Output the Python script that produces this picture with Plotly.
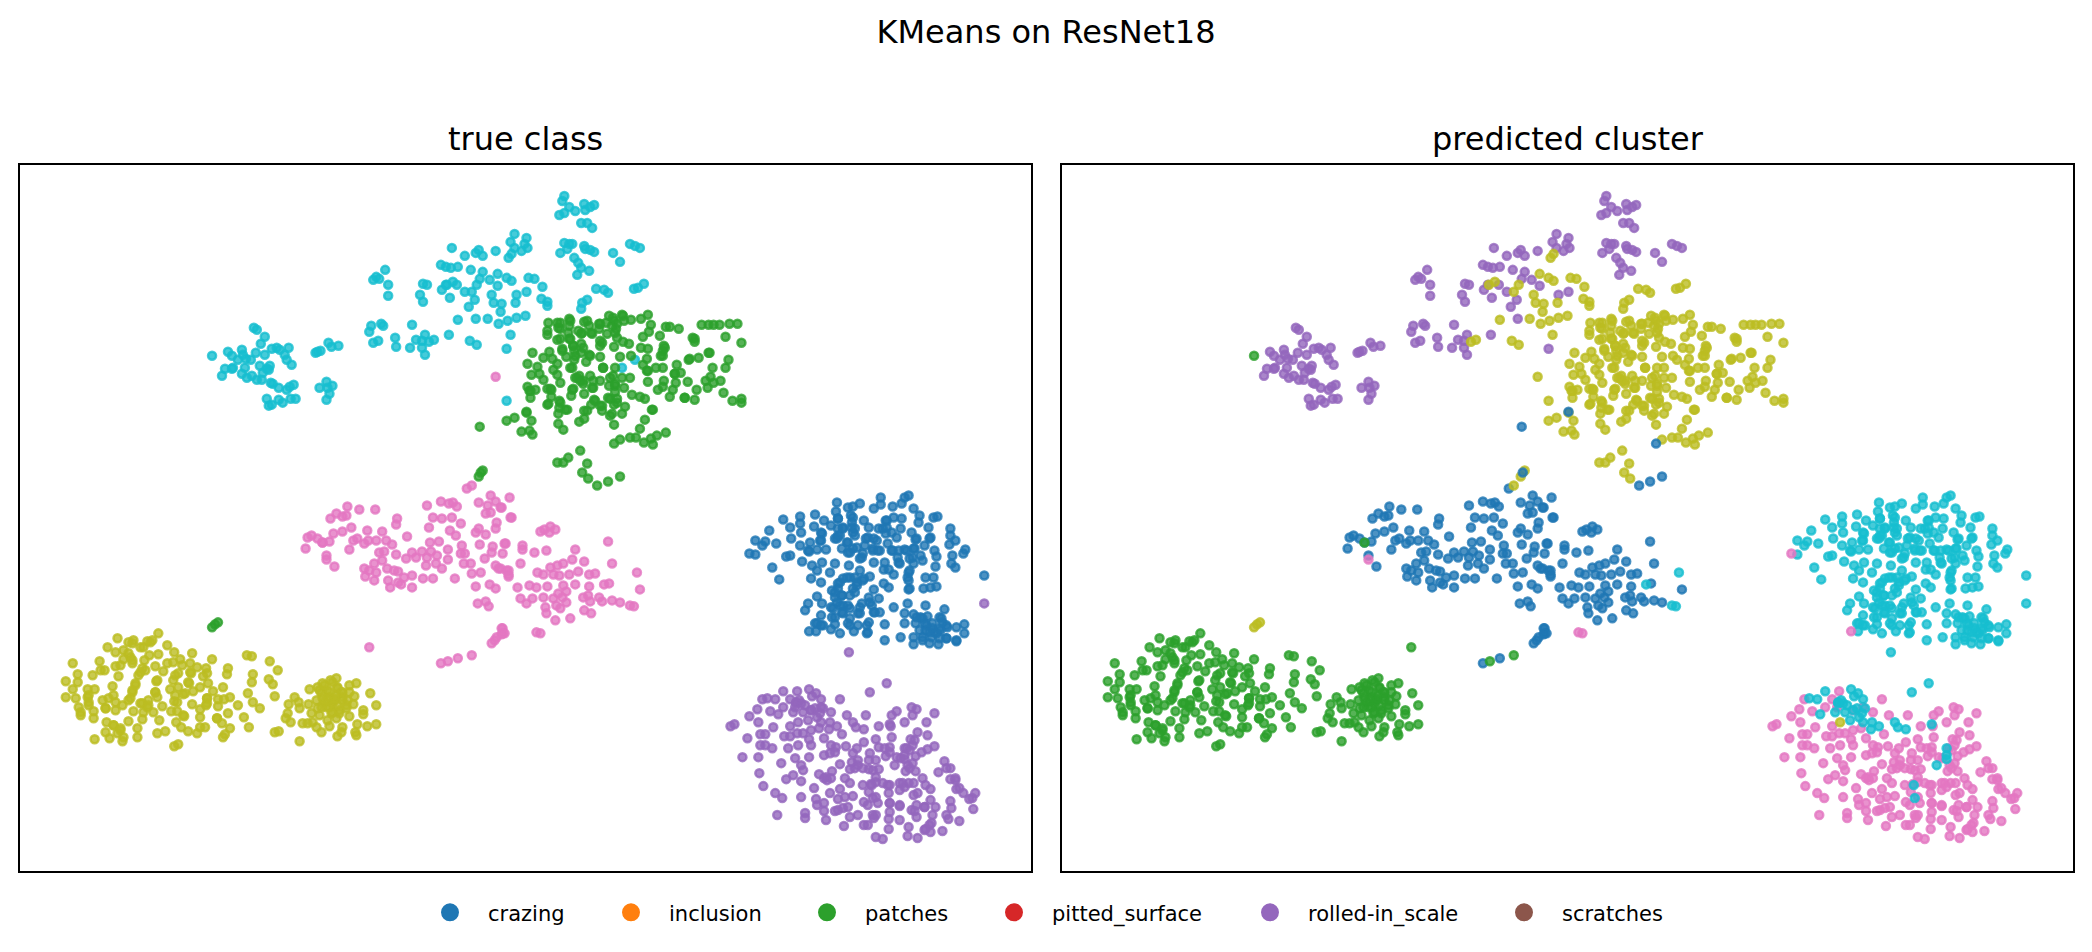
from plotly.subplots import make_subplots
import plotly.graph_objects as go

# t-SNE points have no ticks in the picture, so values are read in picture units.
BLUE = "31,119,180"
GREEN = "44,160,44"
PURPLE = "148,103,189"
OLIVE = "188,189,34"
PINK = "227,119,194"
CYAN = "23,190,207"

legend_names = ["crazing", "inclusion", "patches", "pitted_surface", "rolled-in_scale", "scratches"]
legend_colors = ["#1f77b4", "#ff7f0e", "#2ca02c", "#d62728", "#9467bd", "#8c564b"]
legend_marker_px = [450, 631, 827, 1014, 1270, 1524]

cyan_purple_x = [228,232,242,243,238,246,251,225,222,232,233,245,242,247,252,257,262,260,263,267,270,269,256,265,261,265,254,257,272,277,280,289,285,287,292,271,273,279,287,290,294,267,269,272,279,283,291,296,316,318,321,329,332,339,320,327,333,328,330,327,
    386,377,374,380,389,389,372,370,382,384,413,374,379,396,397,411,417,426,423,423,426,450,424,428,421,424,443,447,458,451,442,447,452,459,453,466,477,480,484,497,472,484,481,466,476,470,491,499,477,518,528,508,516,512,528,526,529,523,516,
    566,564,571,577,566,561,586,587,592,596,583,589,594,566,571,574,569,562,586,587,596,592,576,580,583,591,579,615,622,632,637,642]
cyan_purple_y = [351,355,349,354,359,358,359,368,375,368,367,367,373,377,375,379,379,365,372,368,365,369,352,354,343,336,327,329,348,347,349,347,354,359,364,382,383,387,389,386,384,398,405,404,399,402,398,398,352,351,350,342,346,345,387,381,385,387,393,399,
    269,276,279,278,284,295,325,331,323,325,324,342,340,337,346,347,339,334,340,347,354,334,283,284,294,301,289,284,284,297,264,266,267,266,247,255,252,249,255,250,269,271,278,291,299,306,279,285,318,294,291,348,233,241,237,243,247,250,247,
    195,200,206,210,212,214,203,209,206,204,222,222,227,242,243,243,248,252,245,248,251,249,257,262,267,270,274,252,261,243,245,247]

cyan_olive_x = [454,448,473,478,459,430,435,471,478,512,493,495,503,502,489,500,509,518,527,499,508,513,510,513,530,536,544,517,543,549,549,598,606,610,636,640,646,589,584,583,508,624,637]
cyan_olive_y = [281,284,291,284,319,341,339,340,344,334,294,302,303,311,318,323,320,317,315,273,277,280,257,253,277,278,286,302,298,301,305,288,289,292,288,287,283,299,302,308,400,367,359]

cyan_green_x = [212]
cyan_green_y = [355]

green_olive_x = [550,559,560,549,549,571,571,570,580,583,586,591,593,601,601,608,611,616,614,624,626,633,643,650,618,609,619,602,602,616,625,631,653,651,645,662,668,672,681,704,711,716,722,732,740,728,744,695,697,711,701,691,731,728,715,679,677,683,666,665,663,665,658,643,650,649,633,622,645,649,605,602,591,588,572,576,568,559,564,571,575,583,583,576,534,551,545,554,559,529,539,533,541,545,555,559,562,529,531,537,532,549,553,553,549,561,561,567,560,573,574,577,582,585,581,592,595,602,586,596,593,586,586,581,602,604,612,611,617,617,624,632,626,617,610,619,616,627,624,612,616,634,642,647,654,647,642,668,659,653,646,655,638,632,622,660,666,665,675,678,672,690,687,697,699,710,708,713,716,723,726,735,744,744,528,533,523,531,534,508,516,560,565,559,565,570,582,589,584,590,215,212,218,480,484,
    562,562,572,589,602,615,619,625,617,594,584,572,562,564,575,585,592,604,574,577,579,585,595,594,575,605,615,617,597,604,589,612,619,614,532,552,550,562,569,665,667,650,650,655,677,687,697,712,692]
green_olive_y = [322,322,327,330,334,318,325,332,330,333,321,325,332,323,328,322,315,320,325,314,320,319,318,314,328,333,337,340,345,346,341,343,324,331,336,335,326,326,328,324,324,324,324,323,323,336,342,337,341,352,357,359,359,367,367,364,373,372,345,350,355,367,367,347,348,358,355,356,364,370,367,356,354,361,367,359,356,339,350,338,345,343,352,350,352,351,357,358,363,363,366,374,373,379,369,374,382,386,390,389,397,388,389,396,404,400,407,409,413,395,389,377,380,383,375,375,387,380,393,399,404,410,418,421,405,410,377,385,383,367,377,377,387,391,397,398,404,406,413,415,424,394,396,398,409,419,428,432,435,438,442,444,437,437,439,389,380,386,389,382,396,381,397,399,389,387,380,376,382,380,392,400,398,402,412,420,431,430,434,420,417,423,429,462,462,457,450,463,472,478,624,627,622,476,470,
    322,328,320,320,323,317,323,315,332,333,332,338,338,348,345,347,355,342,367,355,377,380,380,387,388,367,375,385,400,405,410,398,402,413,390,388,403,402,409,355,347,370,381,409,373,397,338,352,358]

green_blue_x = [616,599,610,622,481,482,528]
green_blue_y = [443,485,481,476,426,472,411]

pink_blue_x = [468,492,511,428,442,450,454,458,480,489,497,502,348,331,337,343,347,360,376,398,397,434,443,453,462,451,430,308,312,318,323,330,334,343,352,368,383,408,306,350,354,358,365,369,377,387,393,327,335,380,385,397,375,383,365,370,377,366,375,388,395,399,389,391,399,402,405,413,413,424,434,407,413,417,423,428,432,438,427,437,443,449,449,431,440,456,462,466,463,457,465,472,473,482,477,491,497,479,487,490,477,480,487,481,494,493,504,507,486,497,500,510,508,487,492,498,497,513,503,498,496,493,504,506,442,459,
    503,512,542,546,552,557,551,610,577,586,614,642,506,524,524,536,548,522,502,510,510,539,545,552,559,565,574,580,571,561,555,591,597,611,591,577,565,519,531,538,549,545,560,568,522,528,534,547,548,555,558,562,568,564,585,590,592,601,604,614,622,586,593,572,557,503,504]
pink_blue_y = [488,495,497,505,501,503,502,506,502,505,501,507,506,518,513,516,515,509,509,518,524,517,518,517,523,530,527,537,535,538,542,541,533,531,527,530,531,536,548,549,540,538,543,540,540,540,544,555,566,552,551,554,563,560,568,570,572,576,580,568,570,571,580,587,582,584,577,575,587,578,578,558,552,557,551,557,551,555,565,563,568,559,549,542,541,578,553,553,545,535,563,563,573,572,586,584,588,603,601,606,532,528,534,544,546,552,553,543,558,565,568,574,570,513,512,522,528,517,634,637,640,643,628,633,663,658,
    507,517,531,529,526,529,532,541,549,561,563,589,543,545,549,552,550,563,568,570,576,572,574,567,565,563,559,571,574,575,574,574,573,583,586,584,585,587,585,587,586,597,593,591,598,603,598,607,613,598,605,608,602,597,597,595,601,597,601,600,602,610,613,618,620,628,633]

pink_cyan_x = [639,606,632,636]
pink_cyan_y = [572,584,605,606]
pink_pink_x = [538,542,327]
pink_pink_y = [632,633,559]
pink_green_x = [370,449,473,323]
pink_green_y = [647,661,655,542]
pink_olive_x = [497,473]
pink_olive_y = [376,485]

blue_cyan_x = [840,839,841,851,856,863,854,855,867,877,884,884,896,905,908,912,917,923,922,897,905,889,937,941,932,934,904,886,872,818,803,786,827,817,803,804,793,772,758,768,765,779,794,803,813,812,824,824,834,846,841,856,850,838,869,877,882,889,900,915,919,928,933,954,954,953,959,969,967,956,955,959,938,940,939,917,908,924,913,902,895,881,876,866,856,851,829,820,811,793,789,758,805,825,815,820,833,838,852,863,863,877,888,887,892,897,902,912,917,926,775,782,814,824,846,841,853,858,867,873,860,887,892,912,912,929,937,927,934,940,988,835,841,856,877,820,838,845,853,872,882,811,825,834,843,851,863,873,808,897,911,929,948,824,835,846,861,877,883,908,917,924,931,943,888,908,838,851,861,872,818,824,919,928,936,950,960,968,819,834,843,857,870,929,938,944,968,888,904,917,926,950,960,917,933,942,
    843,851,858,858,856,841,846,840,845,853,860,868,865,871,880,876,883,890,890,895,891,896,901,903,910,918,920,916,913,911,913,855,825,823,841,
    860,866,858,850,843,838,845,840,846,853,845,836,838,853,853,863,865,875,878,870,871,826,820,
    926,930,936,943,946,940,933,923,926,935,945,951,960,950,920,943]
blue_cyan_y = [502,511,518,507,506,503,515,522,520,508,497,504,506,503,497,495,508,515,522,517,518,520,517,516,527,537,528,528,527,514,516,519,520,526,523,532,527,530,540,541,545,543,538,545,542,551,540,532,525,528,535,532,542,538,538,538,528,533,537,532,539,545,538,528,535,544,540,549,553,555,563,567,550,556,566,548,549,555,558,550,550,550,550,553,548,552,549,549,550,555,556,554,561,562,565,570,572,563,565,570,558,562,562,569,569,574,562,572,563,560,567,579,578,582,578,583,577,577,578,576,582,583,587,580,589,577,577,588,587,586,575,590,588,588,589,596,597,595,595,597,598,603,603,607,605,605,607,602,610,607,603,605,609,615,617,613,613,612,612,613,614,617,616,617,624,623,624,623,625,622,623,625,623,623,623,625,627,624,631,629,633,631,633,630,632,630,633,640,637,637,637,638,641,644,643,644,
    535,542,528,535,517,518,527,538,548,552,547,545,557,537,540,548,550,520,527,532,543,550,557,563,550,548,538,557,570,577,588,527,533,540,528,
    585,580,592,577,582,592,595,602,605,608,612,608,617,618,625,613,603,605,612,625,632,625,623,
    618,625,628,628,622,633,632,630,640,637,618,627,640,638,617,638]
blue_pink_x = [752,812]
blue_pink_y = [553,631]

purple_pink_x = [793,800,843,765,760,773,786,798,814,824,834,752,761,850,869,895,900,915,920,916,938,733,737,930,908,894,882,822,793,776,763,768,800,814,845,921,931,750,787,812,827,867,879,895,914,763,775,791,801,814,834,849,860,882,893,910,916,938,931,745,761,798,812,827,838,856,873,889,900,919,925,784,804,843,855,861,872,911,948,762,806,835,853,872,882,909,919,950,942,789,796,804,822,827,848,879,926,766,817,830,853,866,874,886,893,903,912,917,929,954,959,934,960,778,785,804,833,843,848,856,872,903,892,917,967,979,973,819,827,841,867,881,893,903,915,920,928,934,939,954,955,977,820,838,846,827,861,876,893,780,808,808,853,829,892,903,920,936,950,952,963,847,867,877,935,892,912,929,934,946,879,886,911,921,
    806,768,793,839,833,861,858,866,876,879,888,893,904,913,918,916,913,879,891,906,908,879,871,893,903,918,928,933,928,879,871,829,834,841,851,976,963,954,959,921]
purple_pink_y = [699,691,699,699,709,711,707,707,710,707,712,716,722,715,715,715,711,707,709,715,713,726,724,722,722,726,726,728,726,727,734,734,733,730,734,732,735,738,736,739,738,742,739,737,739,745,748,748,745,745,745,746,748,747,747,748,745,746,749,757,757,758,757,755,752,753,753,756,757,756,752,763,765,764,762,765,760,765,761,773,770,771,769,769,769,771,771,768,772,779,775,781,774,778,778,777,778,786,788,780,783,785,784,783,785,783,783,783,785,779,780,789,789,793,798,797,793,789,797,796,792,790,793,795,793,793,799,799,803,799,802,803,803,806,810,805,807,800,807,801,808,809,805,811,808,811,815,815,812,815,813,818,817,820,819,820,817,815,815,819,821,826,825,818,823,829,827,829,832,831,837,839,836,838,
    733,745,736,747,753,760,768,768,770,760,748,752,758,750,740,763,768,782,785,783,787,797,805,803,805,811,807,825,830,815,825,777,778,810,807,798,788,768,778,793]
purple_cyan_x = [770,778,786,812,815,824,799,804,796,806,818,811,820,781,833,840,832,856,859,867,893,908,908,908,898,875,876,873,890,852,988,802,808,799,823,824,826,814,819]
purple_cyan_y = [698,699,691,689,696,699,702,703,712,712,708,720,717,714,722,726,729,722,727,729,724,748,755,759,765,785,798,692,683,652,603,700,705,703,713,722,708,710,693]
purple_olive_x = [801]
purple_olive_y = [722]

olive_green_x = [158,117,107,128,133,147,152,140,167,115,123,123,130,132,149,158,144,174,180,192,212,247,252,270,278,72,99,100,104,115,120,118,77,92,65,77,72,65,75,87,94,87,78,80,88,93,93,102,108,112,113,115,105,115,122,128,132,135,138,142,145,155,163,167,173,182,190,197,206,178,191,203,173,189,208,156,170,178,155,193,200,213,223,228,227,253,252,248,253,260,269,273,275,157,148,140,133,143,147,153,162,175,174,183,192,207,206,200,218,224,230,218,171,177,184,200,217,228,238,244,142,128,159,176,106,113,120,137,181,188,200,205,197,222,230,249,105,117,157,165,94,109,123,122,137,223,225,174,178,275,279,300,
    295,289,299,300,288,286,291,303,308,317,322,330,338,343,342,356,357,358,368,377,364,364,377,371,357,350,355,354,350,337,331,323,318,310,309,312,320,313,328,337,340,347,343,338,343,328,322,317,325,330,335,338,330,322,333,348,
    132,128,132,143,150,140,135,132,130,157,155,175,190,188,207,207,207,177,185,142,148,105,88,88,80,183,217,113,120,333,337,330,323,327,340,343,338,320,332,318,347,350,325,333,342,335,328]
olive_green_y = [633,638,647,642,640,641,640,647,645,652,650,659,657,663,655,654,660,652,659,653,659,655,656,661,670,663,661,670,670,666,665,676,674,675,681,682,689,697,698,689,689,697,707,715,705,711,718,700,698,686,695,702,708,710,705,700,690,683,675,668,670,666,671,663,662,665,663,667,668,673,673,676,680,683,683,681,689,687,692,691,687,691,687,668,674,674,682,693,702,708,679,684,696,697,700,703,711,712,707,712,706,695,701,694,704,698,705,709,699,699,697,706,711,711,716,717,718,713,705,717,719,721,720,722,722,725,728,728,727,731,727,727,733,723,728,727,732,733,733,731,739,738,737,741,737,737,734,746,744,732,731,741,
    697,704,702,708,713,718,722,723,723,727,732,726,736,727,732,732,735,724,726,724,710,714,705,693,683,685,696,704,716,678,680,683,687,689,704,713,715,722,720,718,713,708,700,688,692,690,693,700,702,697,700,705,707,707,712,700,
    643,653,660,647,642,672,685,692,698,680,692,675,672,682,673,698,703,702,693,703,705,708,695,702,712,715,718,725,730,703,695,692,698,707,710,697,687,690,713,708,705,692,685,682,692,698,700]

# (x, y, colour in the true class panel, colour in the predicted cluster panel)
groups = [
    (cyan_purple_x, cyan_purple_y, CYAN, PURPLE),
    (cyan_olive_x, cyan_olive_y, CYAN, OLIVE),
    (cyan_green_x, cyan_green_y, CYAN, GREEN),
    (green_olive_x, green_olive_y, GREEN, OLIVE),
    (green_blue_x, green_blue_y, GREEN, BLUE),
    (pink_blue_x, pink_blue_y, PINK, BLUE),
    (pink_cyan_x, pink_cyan_y, PINK, CYAN),
    (pink_pink_x, pink_pink_y, PINK, PINK),
    (pink_green_x, pink_green_y, PINK, GREEN),
    (pink_olive_x, pink_olive_y, PINK, OLIVE),
    (blue_cyan_x, blue_cyan_y, BLUE, CYAN),
    (blue_pink_x, blue_pink_y, BLUE, PINK),
    (purple_pink_x, purple_pink_y, PURPLE, PINK),
    (purple_cyan_x, purple_cyan_y, PURPLE, CYAN),
    (purple_olive_x, purple_olive_y, PURPLE, OLIVE),
    (olive_green_x, olive_green_y, OLIVE, GREEN),
]

MARGIN_L = 20
MARGIN_R = 19
PLOT_W = 2092 - MARGIN_L - MARGIN_R


def points(x, y, rgb):
    return go.Scatter(
        x=x,
        y=y,
        mode="markers",
        showlegend=False,
        hoverinfo="skip",
        marker={
            "size": 8,
            "color": f"rgba({rgb},0.8)",
            "line": {"width": 2.5, "color": f"rgba({rgb},0.8)"},
        },
    )


fig = make_subplots(
    rows=1,
    cols=2,
    subplot_titles=["true class", "predicted cluster"],
    horizontal_spacing=31 / PLOT_W,
)

for x, y, true_rgb, pred_rgb in groups:
    fig.add_trace(points(x, y, true_rgb), row=1, col=1)
    fig.add_trace(points(x, y, pred_rgb), row=1, col=2)

# the legend colours do not follow the points in the original, keep that
# one legend per entry, the gaps in a single plotly legend are too narrow
legends = {}
for i, (name, color, px) in enumerate(zip(legend_names, legend_colors, legend_marker_px)):
    key = "legend" if i == 0 else f"legend{i + 1}"
    fig.add_trace(go.Scatter(
        x=[None],
        y=[None],
        mode="markers",
        name=name,
        legend=key,
        marker={"size": 16, "color": color, "line": {"width": 2, "color": color}},
    ), row=1, col=1)
    legends[key] = {
        "orientation": "h",
        "x": (px - 38 - MARGIN_L) / PLOT_W,
        "xanchor": "left",
        "y": -0.059,
        "yanchor": "middle",
        "itemwidth": 66,
        "itemsizing": "trace",
        "font": {"size": 21},
    }

axis_style = dict(
    showgrid=False,
    zeroline=False,
    showticklabels=False,
    ticks="",
    showline=True,
    mirror=True,
    linecolor="black",
    linewidth=2,
)
fig.update_xaxes(range=[19, 1035], **axis_style)
fig.update_yaxes(range=[871, 164], **axis_style)

fig.update_layout(
    width=2092,
    height=952,
    margin={"l": MARGIN_L, "r": MARGIN_R, "t": 165, "b": 81},
    paper_bgcolor="white",
    plot_bgcolor="white",
    font={"family": "DejaVu Sans", "color": "black"},
    title={
        "text": "KMeans on ResNet18",
        "x": 0.5,
        "xanchor": "center",
        "y": 1 - 32 / 952,
        "yanchor": "middle",
        "font": {"size": 32, "color": "black"},
    },
    **legends,
)

for ann in fig.layout.annotations:
    ann.font = {"size": 32, "color": "black"}
    ann.yshift = 5

fig.write_html(
    "out.html",
    config={"displayModeBar": False},
    post_script="document.body.style.margin='0';",
)
